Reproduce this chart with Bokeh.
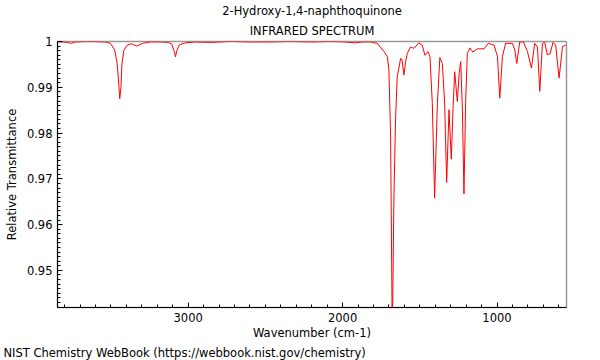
from bokeh.plotting import figure
from bokeh.models import Range1d, FixedTicker, CustomJSTickFormatter, Title
from bokeh.embed import file_html
from bokeh.resources import INLINE

# ---- data ----
wavenumber = [3847, 3815, 3783, 3756, 3730, 3633, 3536, 3504, 3476, 3461, 3452, 3443,
              3435, 3429, 3417, 3395, 3367, 3331, 3296, 3244, 3180, 3128, 3105, 3092,
              3082, 3073, 3056, 3017, 2953, 2855, 2726, 2596, 2467, 2337, 2207, 2077,
              1980, 1916, 1870, 1819, 1775, 1732, 1710, 1700, 1689, 1678, 1668, 1657,
              1646, 1624, 1615, 1603, 1592, 1581, 1560, 1538, 1506, 1484, 1467, 1447,
              1434, 1419, 1404, 1386, 1370, 1354, 1339, 1326, 1311, 1296, 1284, 1274,
              1257, 1245, 1235, 1224, 1214, 1203, 1192, 1175, 1157, 1127, 1084, 1056,
              1019, 997, 982, 965, 944, 900, 885, 872, 853, 829, 803, 777,
              756, 738, 723, 706, 691, 674, 657, 637, 620, 598, 576, 555]
transmittance = [0.9999, 0.9999, 0.9998, 0.9996, 0.9999, 1.0, 0.9999, 0.9996, 0.9982, 0.9955, 0.9920, 0.9875,
                 0.9900, 0.9950, 0.9980, 0.9992, 0.9995, 0.9990, 0.9996, 0.9999, 0.9999, 0.9998, 0.9994, 0.9980,
                 0.99668, 0.9980, 0.9993, 0.9997, 0.9999, 0.9998, 1.0, 0.9999, 0.9999, 1.0, 0.9999, 1.0,
                 0.9999, 0.9997, 0.9999, 0.9999, 0.9996, 0.9978, 0.9967, 0.9938, 0.9793, 0.935, 0.9649, 0.9830,
                 0.9923, 0.9963, 0.9960, 0.9927, 0.9955, 0.9974, 0.9988, 0.9985, 0.9997, 0.9992, 0.9970, 0.9978,
                 0.9967, 0.9865, 0.9658, 0.9865, 0.9965, 0.9952, 0.9866, 0.9692, 0.9851, 0.9743, 0.9860, 0.9934,
                 0.9869, 0.9930, 0.9956, 0.9850, 0.9667, 0.9870, 0.9974, 0.9986, 0.9977, 0.9984, 0.9984, 0.9996,
                 0.9992, 0.9967, 0.98763, 0.9967, 0.9996, 0.9996, 0.9982, 0.9952, 0.9999, 0.9999, 0.9978, 0.9942,
                 0.9996, 0.9988, 0.9891, 0.9996, 0.9998, 0.9971, 0.9973, 0.9998, 0.9992, 0.9920, 0.9989, 0.9992]

x_ticks = [1000, 2000, 3000]
x_minor = list(range(600, 3900, 100))
y_ticks = [0.95, 0.96, 0.97, 0.98, 0.99, 1.0]
y_minor = [round(0.942 + 0.001 * i, 3) for i in range(59)]

title_1 = "2-Hydroxy-1,4-naphthoquinone"
title_2 = "INFRARED SPECTRUM"
x_label = "Wavenumber (cm-1)"
y_label = "Relative Transmittance"
footer = "NIST Chemistry WebBook (https://webbook.nist.gov/chemistry)"

FONT = "DejaVu Sans"
FS = "11.5px"

p = figure(width=600, height=360, output_backend="svg", toolbar_location=None,
           x_range=Range1d(3846, 550), y_range=Range1d(0.9419, 1.0),
           min_border_left=57, min_border_right=34, min_border_top=41, min_border_bottom=52,
           background_fill_color="white", border_fill_color="white")

p.line(wavenumber, transmittance, line_color="#ff0000", line_width=1)

p.xgrid.visible = False
p.ygrid.visible = False
p.outline_line_color = "#999999"
p.outline_line_width = 1.5

p.xaxis.ticker = FixedTicker(ticks=x_ticks, minor_ticks=x_minor)
p.yaxis.ticker = FixedTicker(ticks=y_ticks, minor_ticks=y_minor)
p.yaxis.formatter = CustomJSTickFormatter(code="return Number(tick.toFixed(2)).toString();")

for ax in (p.xaxis[0], p.yaxis[0]):
    ax.axis_line_color = "black"
    ax.major_tick_line_color = "black"
    ax.minor_tick_line_color = "black"
    ax.major_tick_in = 5
    ax.major_tick_out = 0
    ax.minor_tick_in = 3
    ax.minor_tick_out = 0
    ax.major_label_text_font = FONT
    ax.major_label_text_font_size = FS
    ax.major_label_text_color = "black"
    ax.axis_label_text_font = FONT
    ax.axis_label_text_font_size = FS
    ax.axis_label_text_font_style = "normal"
    ax.axis_label_text_color = "black"

p.xaxis.major_label_standoff = 5
p.yaxis.major_label_standoff = 5
p.xaxis.axis_label = x_label
p.xaxis.axis_label_standoff = 1
p.yaxis.axis_label = y_label
p.yaxis.axis_label_standoff = 5

def make_title(text, standoff, align="center", offset=0):
    return Title(text=text, align=align, offset=offset, standoff=standoff,
                 text_font=FONT, text_font_size=FS, text_font_style="normal",
                 text_color="black")

# titles above: the first one added sits next to the plot
p.add_layout(make_title(title_2, 7), "above")
p.add_layout(make_title(title_1, 1), "above")
p.add_layout(make_title(footer, 2, align="left", offset=-54), "below")

open("out.html", "w").write(file_html(p, INLINE))
